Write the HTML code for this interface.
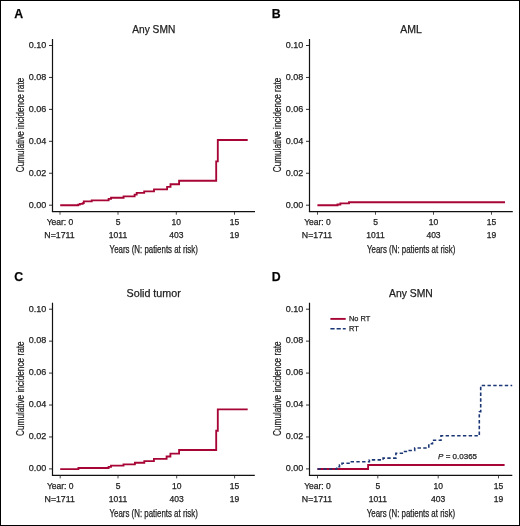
<!DOCTYPE html>
<html><head><meta charset="utf-8"><style>
html,body{margin:0;padding:0;background:#fff;width:520px;height:526px;overflow:hidden}
</style></head><body>
<svg width="520" height="526" viewBox="0 0 520 526" style="display:block;will-change:transform">
<rect x="0" y="0" width="520" height="526" fill="#fff"/>
<g font-family='"Liberation Sans", sans-serif' stroke="#222" stroke-width="0.25"><text x="14.3" y="17.7" font-size="12.3" font-weight="bold" fill="#000">A</text><text x="153.75" y="33.2" font-size="10.3" text-anchor="middle" fill="#222" textLength="43" lengthAdjust="spacingAndGlyphs">Any SMN</text><text transform="translate(23.7,125) rotate(-90)" x="0" y="0" font-size="10.4" text-anchor="middle" fill="#222" textLength="94.5" lengthAdjust="spacingAndGlyphs">Cumulative incidence rate</text><line x1="49" y1="205.2" x2="52.5" y2="205.2" stroke="#333" stroke-width="1"/><text x="46.3" y="207.5" font-size="9" text-anchor="end" fill="#222">0.00</text><line x1="49" y1="173.26" x2="52.5" y2="173.26" stroke="#333" stroke-width="1"/><text x="46.3" y="175.56" font-size="9" text-anchor="end" fill="#222">0.02</text><line x1="49" y1="141.32" x2="52.5" y2="141.32" stroke="#333" stroke-width="1"/><text x="46.3" y="143.62" font-size="9" text-anchor="end" fill="#222">0.04</text><line x1="49" y1="109.37999999999998" x2="52.5" y2="109.37999999999998" stroke="#333" stroke-width="1"/><text x="46.3" y="111.67999999999998" font-size="9" text-anchor="end" fill="#222">0.06</text><line x1="49" y1="77.43999999999998" x2="52.5" y2="77.43999999999998" stroke="#333" stroke-width="1"/><text x="46.3" y="79.73999999999998" font-size="9" text-anchor="end" fill="#222">0.08</text><line x1="49" y1="45.49999999999997" x2="52.5" y2="45.49999999999997" stroke="#333" stroke-width="1"/><text x="46.3" y="47.79999999999997" font-size="9" text-anchor="end" fill="#222">0.10</text><line x1="52.5" y1="39" x2="52.5" y2="211.7" stroke="#111" stroke-width="1.2"/><line x1="51.9" y1="211.6" x2="255" y2="211.6" stroke="#111" stroke-width="1.2"/><line x1="60" y1="212" x2="60" y2="214.7" stroke="#333" stroke-width="0.9"/><text x="60" y="225.2" font-size="8.5" text-anchor="middle" fill="#222">Year: 0</text><text x="59.5" y="238" font-size="8.5" text-anchor="middle" fill="#222" textLength="30.3" lengthAdjust="spacingAndGlyphs">N=1711</text><line x1="118" y1="212" x2="118" y2="214.7" stroke="#333" stroke-width="0.9"/><text x="118" y="225.2" font-size="8.5" text-anchor="middle" fill="#222">5</text><text x="118" y="238" font-size="8.5" text-anchor="middle" fill="#222">1011</text><line x1="176.3" y1="212" x2="176.3" y2="214.7" stroke="#333" stroke-width="0.9"/><text x="176.3" y="225.2" font-size="8.5" text-anchor="middle" fill="#222">10</text><text x="176.3" y="238" font-size="8.5" text-anchor="middle" fill="#222">403</text><line x1="234.5" y1="212" x2="234.5" y2="214.7" stroke="#333" stroke-width="0.9"/><text x="234.5" y="225.2" font-size="8.5" text-anchor="middle" fill="#222">15</text><text x="234.5" y="238" font-size="8.5" text-anchor="middle" fill="#222">19</text><text x="153.75" y="252.8" font-size="10" text-anchor="middle" fill="#222" textLength="88.3" lengthAdjust="spacingAndGlyphs">Years (N: patients at risk)</text></g>
<g font-family='"Liberation Sans", sans-serif' stroke="#222" stroke-width="0.25"><text x="271.8" y="17.7" font-size="12.3" font-weight="bold" fill="#000">B</text><text x="411.15" y="33.2" font-size="10.3" text-anchor="middle" fill="#222" textLength="21.6" lengthAdjust="spacingAndGlyphs">AML</text><text transform="translate(280.7,125) rotate(-90)" x="0" y="0" font-size="10.4" text-anchor="middle" fill="#222" textLength="94.5" lengthAdjust="spacingAndGlyphs">Cumulative incidence rate</text><line x1="306.0" y1="205.2" x2="309.5" y2="205.2" stroke="#333" stroke-width="1"/><text x="303.3" y="207.5" font-size="9" text-anchor="end" fill="#222">0.00</text><line x1="306.0" y1="173.26" x2="309.5" y2="173.26" stroke="#333" stroke-width="1"/><text x="303.3" y="175.56" font-size="9" text-anchor="end" fill="#222">0.02</text><line x1="306.0" y1="141.32" x2="309.5" y2="141.32" stroke="#333" stroke-width="1"/><text x="303.3" y="143.62" font-size="9" text-anchor="end" fill="#222">0.04</text><line x1="306.0" y1="109.37999999999998" x2="309.5" y2="109.37999999999998" stroke="#333" stroke-width="1"/><text x="303.3" y="111.67999999999998" font-size="9" text-anchor="end" fill="#222">0.06</text><line x1="306.0" y1="77.43999999999998" x2="309.5" y2="77.43999999999998" stroke="#333" stroke-width="1"/><text x="303.3" y="79.73999999999998" font-size="9" text-anchor="end" fill="#222">0.08</text><line x1="306.0" y1="45.49999999999997" x2="309.5" y2="45.49999999999997" stroke="#333" stroke-width="1"/><text x="303.3" y="47.79999999999997" font-size="9" text-anchor="end" fill="#222">0.10</text><line x1="309.5" y1="39" x2="309.5" y2="211.7" stroke="#111" stroke-width="1.2"/><line x1="308.9" y1="211.6" x2="512.8" y2="211.6" stroke="#111" stroke-width="1.2"/><line x1="317.5" y1="212" x2="317.5" y2="214.7" stroke="#333" stroke-width="0.9"/><text x="317.5" y="225.2" font-size="8.5" text-anchor="middle" fill="#222">Year: 0</text><text x="317.0" y="238" font-size="8.5" text-anchor="middle" fill="#222" textLength="30.3" lengthAdjust="spacingAndGlyphs">N=1711</text><line x1="375.5" y1="212" x2="375.5" y2="214.7" stroke="#333" stroke-width="0.9"/><text x="375.5" y="225.2" font-size="8.5" text-anchor="middle" fill="#222">5</text><text x="375.5" y="238" font-size="8.5" text-anchor="middle" fill="#222">1011</text><line x1="433.5" y1="212" x2="433.5" y2="214.7" stroke="#333" stroke-width="0.9"/><text x="433.5" y="225.2" font-size="8.5" text-anchor="middle" fill="#222">10</text><text x="433.5" y="238" font-size="8.5" text-anchor="middle" fill="#222">403</text><line x1="491.5" y1="212" x2="491.5" y2="214.7" stroke="#333" stroke-width="0.9"/><text x="491.5" y="225.2" font-size="8.5" text-anchor="middle" fill="#222">15</text><text x="491.5" y="238" font-size="8.5" text-anchor="middle" fill="#222">19</text><text x="411.15" y="252.8" font-size="10" text-anchor="middle" fill="#222" textLength="88.3" lengthAdjust="spacingAndGlyphs">Years (N: patients at risk)</text></g>
<g font-family='"Liberation Sans", sans-serif' stroke="#222" stroke-width="0.25"><text x="14.3" y="281.4" font-size="12.3" font-weight="bold" fill="#000">C</text><text x="153.65" y="296.9" font-size="10.3" text-anchor="middle" fill="#222" textLength="54.2" lengthAdjust="spacingAndGlyphs">Solid tumor</text><text transform="translate(23.7,388.7) rotate(-90)" x="0" y="0" font-size="10.4" text-anchor="middle" fill="#222" textLength="94.5" lengthAdjust="spacingAndGlyphs">Cumulative incidence rate</text><line x1="49" y1="468.9" x2="52.5" y2="468.9" stroke="#333" stroke-width="1"/><text x="46.3" y="471.2" font-size="9" text-anchor="end" fill="#222">0.00</text><line x1="49" y1="436.96" x2="52.5" y2="436.96" stroke="#333" stroke-width="1"/><text x="46.3" y="439.26" font-size="9" text-anchor="end" fill="#222">0.02</text><line x1="49" y1="405.02" x2="52.5" y2="405.02" stroke="#333" stroke-width="1"/><text x="46.3" y="407.32" font-size="9" text-anchor="end" fill="#222">0.04</text><line x1="49" y1="373.08" x2="52.5" y2="373.08" stroke="#333" stroke-width="1"/><text x="46.3" y="375.38" font-size="9" text-anchor="end" fill="#222">0.06</text><line x1="49" y1="341.14" x2="52.5" y2="341.14" stroke="#333" stroke-width="1"/><text x="46.3" y="343.44" font-size="9" text-anchor="end" fill="#222">0.08</text><line x1="49" y1="309.19999999999993" x2="52.5" y2="309.19999999999993" stroke="#333" stroke-width="1"/><text x="46.3" y="311.49999999999994" font-size="9" text-anchor="end" fill="#222">0.10</text><line x1="52.5" y1="302.7" x2="52.5" y2="475.4" stroke="#111" stroke-width="1.2"/><line x1="51.9" y1="475.29999999999995" x2="254.8" y2="475.29999999999995" stroke="#111" stroke-width="1.2"/><line x1="60.2" y1="475.7" x2="60.2" y2="478.4" stroke="#333" stroke-width="0.9"/><text x="60.2" y="488.9" font-size="8.5" text-anchor="middle" fill="#222">Year: 0</text><text x="59.7" y="501.7" font-size="8.5" text-anchor="middle" fill="#222" textLength="30.3" lengthAdjust="spacingAndGlyphs">N=1711</text><line x1="118" y1="475.7" x2="118" y2="478.4" stroke="#333" stroke-width="0.9"/><text x="118" y="488.9" font-size="8.5" text-anchor="middle" fill="#222">5</text><text x="118" y="501.7" font-size="8.5" text-anchor="middle" fill="#222">1011</text><line x1="176.7" y1="475.7" x2="176.7" y2="478.4" stroke="#333" stroke-width="0.9"/><text x="176.7" y="488.9" font-size="8.5" text-anchor="middle" fill="#222">10</text><text x="176.7" y="501.7" font-size="8.5" text-anchor="middle" fill="#222">403</text><line x1="234.6" y1="475.7" x2="234.6" y2="478.4" stroke="#333" stroke-width="0.9"/><text x="234.6" y="488.9" font-size="8.5" text-anchor="middle" fill="#222">15</text><text x="234.6" y="501.7" font-size="8.5" text-anchor="middle" fill="#222">19</text><text x="153.65" y="516.5" font-size="10" text-anchor="middle" fill="#222" textLength="88.3" lengthAdjust="spacingAndGlyphs">Years (N: patients at risk)</text></g>
<g font-family='"Liberation Sans", sans-serif' stroke="#222" stroke-width="0.25"><text x="271.8" y="281.4" font-size="12.3" font-weight="bold" fill="#000">D</text><text x="410.9" y="296.9" font-size="10.3" text-anchor="middle" fill="#222" textLength="43.8" lengthAdjust="spacingAndGlyphs">Any SMN</text><text transform="translate(280.7,388.7) rotate(-90)" x="0" y="0" font-size="10.4" text-anchor="middle" fill="#222" textLength="94.5" lengthAdjust="spacingAndGlyphs">Cumulative incidence rate</text><line x1="306.0" y1="468.9" x2="309.5" y2="468.9" stroke="#333" stroke-width="1"/><text x="303.3" y="471.2" font-size="9" text-anchor="end" fill="#222">0.00</text><line x1="306.0" y1="436.96" x2="309.5" y2="436.96" stroke="#333" stroke-width="1"/><text x="303.3" y="439.26" font-size="9" text-anchor="end" fill="#222">0.02</text><line x1="306.0" y1="405.02" x2="309.5" y2="405.02" stroke="#333" stroke-width="1"/><text x="303.3" y="407.32" font-size="9" text-anchor="end" fill="#222">0.04</text><line x1="306.0" y1="373.08" x2="309.5" y2="373.08" stroke="#333" stroke-width="1"/><text x="303.3" y="375.38" font-size="9" text-anchor="end" fill="#222">0.06</text><line x1="306.0" y1="341.14" x2="309.5" y2="341.14" stroke="#333" stroke-width="1"/><text x="303.3" y="343.44" font-size="9" text-anchor="end" fill="#222">0.08</text><line x1="306.0" y1="309.19999999999993" x2="309.5" y2="309.19999999999993" stroke="#333" stroke-width="1"/><text x="303.3" y="311.49999999999994" font-size="9" text-anchor="end" fill="#222">0.10</text><line x1="309.5" y1="302.7" x2="309.5" y2="475.4" stroke="#111" stroke-width="1.2"/><line x1="308.9" y1="475.29999999999995" x2="512.3" y2="475.29999999999995" stroke="#111" stroke-width="1.2"/><line x1="317.5" y1="475.7" x2="317.5" y2="478.4" stroke="#333" stroke-width="0.9"/><text x="317.5" y="488.9" font-size="8.5" text-anchor="middle" fill="#222">Year: 0</text><text x="317.0" y="501.7" font-size="8.5" text-anchor="middle" fill="#222" textLength="30.3" lengthAdjust="spacingAndGlyphs">N=1711</text><line x1="377.8" y1="475.7" x2="377.8" y2="478.4" stroke="#333" stroke-width="0.9"/><text x="377.8" y="488.9" font-size="8.5" text-anchor="middle" fill="#222">5</text><text x="377.8" y="501.7" font-size="8.5" text-anchor="middle" fill="#222">1011</text><line x1="438.2" y1="475.7" x2="438.2" y2="478.4" stroke="#333" stroke-width="0.9"/><text x="438.2" y="488.9" font-size="8.5" text-anchor="middle" fill="#222">10</text><text x="438.2" y="501.7" font-size="8.5" text-anchor="middle" fill="#222">403</text><line x1="498.5" y1="475.7" x2="498.5" y2="478.4" stroke="#333" stroke-width="0.9"/><text x="498.5" y="488.9" font-size="8.5" text-anchor="middle" fill="#222">15</text><text x="498.5" y="501.7" font-size="8.5" text-anchor="middle" fill="#222">19</text><text x="410.9" y="516.5" font-size="10" text-anchor="middle" fill="#222" textLength="88.3" lengthAdjust="spacingAndGlyphs">Years (N: patients at risk)</text></g>
<path d="M60.2,205.2 H78.1 V204.6 H79.8 V203.8 H82.7 V203.1 H83.8 V201.4 H91.7 V200.3 H108.6 V198.9 H111 V197.7 H123.6 V196.3 H134.6 V194.6 H136.7 V192.9 H144.2 V191.4 H154 V189.3 H167.1 V186.9 H170.5 V184.2 H179.1 V180.7 H216.2 V161.4 H217.8 V139.95 H247.7" fill="none" stroke="#a70535" stroke-width="1.85" stroke-linejoin="miter" stroke-linecap="butt"/>
<path d="M317.4,205.2 H337.5 V204.5 H340.4 V203.4 H349 V202.2 H505" fill="none" stroke="#a70535" stroke-width="1.85" stroke-linejoin="miter" stroke-linecap="butt"/>
<path d="M60.2,469.09999999999997 H78.4 V468.0 H108.6 V466.8 H111 V465.6 H123.5 V464.4 H134.9 V462.7 H144.3 V461.1 H153.9 V458.8 H166.6 V456.5 H170.4 V453.6 H179.1 V450.0 H216.2 V430.7 H217.8 V409.4 H247.7" fill="none" stroke="#a70535" stroke-width="1.85" stroke-linejoin="miter" stroke-linecap="butt"/>
<path d="M317.4,469.0 H368.1 V465.0 H504.6" fill="none" stroke="#a70535" stroke-width="1.85" stroke-linejoin="miter" stroke-linecap="butt"/>
<path d="M317.4,469.0 H336.7 V466.7 H339.5 V465.0 H342 V463.3 H350.5 V461.7 H369.4 V459.9 H383.1 V458.1 H395.9 V453.2 H404.6 V451.5 H407.5 V450.5 H414.7 V448.0 H428.8 V443.8 H432.5 V440.3 H441 V435.8 H479.3 V411.7 H480.7 V385.5 H512.2" fill="none" stroke="#1b3675" stroke-width="1.6" stroke-dasharray="3.4 2.36" stroke-dashoffset="5.6" stroke-linejoin="miter"/>
<line x1="330.4" y1="318.9" x2="345.7" y2="318.9" stroke="#a70535" stroke-width="1.9"/>
<line x1="330.4" y1="328.8" x2="345.7" y2="328.8" stroke="#1b3675" stroke-width="1.6" stroke-dasharray="4.2 2"/>
<g font-family='"Liberation Sans", sans-serif' fill="#222" font-size="7.4" stroke="#222" stroke-width="0.25">
<text x="349" y="320.9">No RT</text><text x="349" y="330.7">RT</text>
</g>
<text x="438.1" y="459.4" font-family='"Liberation Sans", sans-serif' font-size="8" fill="#222" stroke="#222" stroke-width="0.25"><tspan font-style="italic">P</tspan> = 0.0365</text>
<rect x="0.5" y="0.5" width="519" height="525" fill="none" stroke="#000" stroke-width="1"/>
</svg>
</body></html>
